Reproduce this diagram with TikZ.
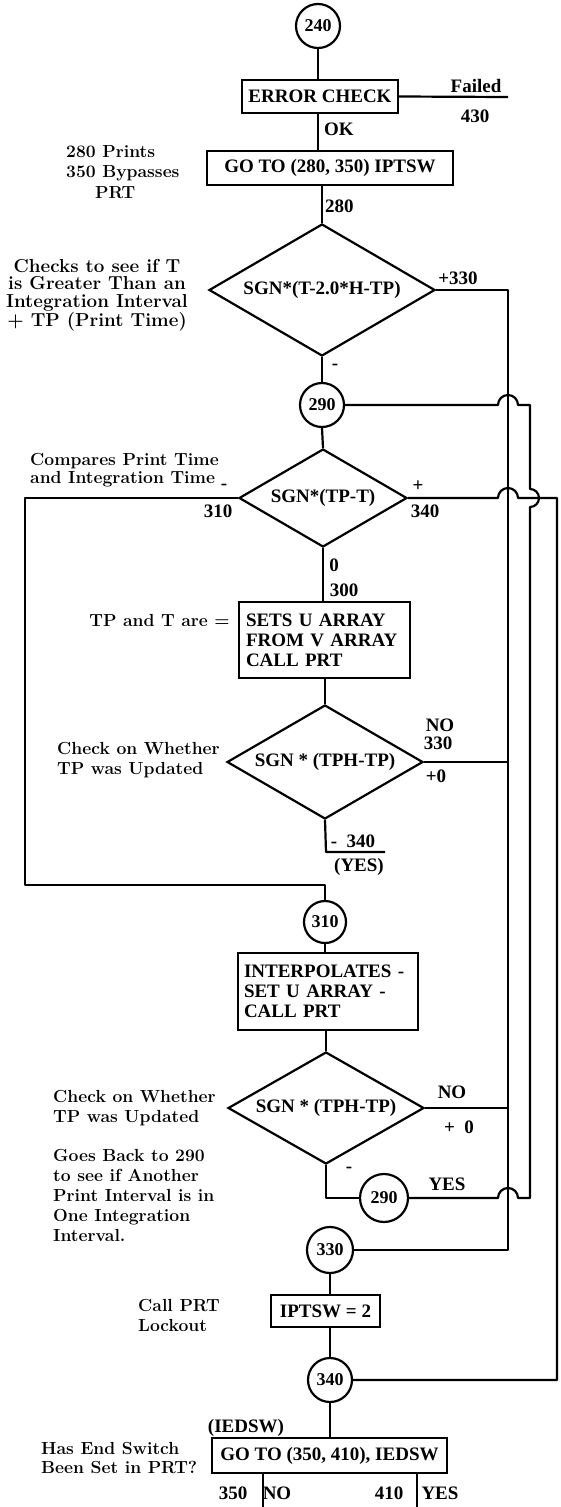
\documentclass[tikz,border=0pt]{standalone}
\usepackage{fontspec}
\newfontfamily\libs{Liberation Serif}
\usetikzlibrary{shapes.geometric,calc}
\newcommand\bxf{\libs\bfseries\fontsize{19}{20}\selectfont}
\newcommand\crf{\libs\bfseries\fontsize{18}{18}\selectfont}
\newcommand\anfs[1]{\bfseries\fontsize{17.5}{#1}\selectfont}
\newcommand\anfb[1]{\bfseries\fontsize{18.8}{#1}\selectfont}
\begin{document}
\begin{tikzpicture}[x=1pt,y=-1pt,
  ln/.style={line width=2.2pt, line join=round},
  pbox/.style={draw, line width=2.2pt, inner sep=0pt, font=\bxf},
  tbox/.style={draw, line width=2.2pt, inner ysep=0pt, font=\bxf, align=left},
  dia/.style={draw, shape=diamond, aspect=1.7, line width=2.2pt, inner sep=0pt, font=\bxf},
  crc/.style={draw, circle, line width=2.2pt, inner sep=0pt, minimum size=44pt, font=\crf},
  lbl/.style={inner sep=0pt, font=\bxf},
  ann/.style={inner sep=0pt, align=left},
]
\fill[white] (0,0) rectangle (561,1507);
\useasboundingbox (0,0) rectangle (561,1507);

% main column nodes
\node[crc] (c240) at (318,26) {240};
\node[pbox, minimum width=156, minimum height=33] (err) at (320,96.5) {ERROR CHECK};
\node[pbox, minimum width=246, minimum height=34] (go1) at (330,168) {GO TO (280, 350) IPTSW};
\node[dia, minimum width=226, minimum height=132] (d1) at (322,290) {SGN*(T-2.0*H-TP)};
\node[crc] (c290) at (322,405) {290};
\node[dia, minimum width=168, minimum height=98] (d2) at (323,498) {SGN*(TP-T)};
\node[tbox, inner xsep=7pt, text width=157, minimum height=76] (sets) at (324.5,640) {SETS U ARRAY\\FROM V ARRAY\\CALL PRT};
\node[dia, minimum width=196, minimum height=114] (d3) at (325,762) {SGN * (TPH-TP)};
\node[crc, minimum size=42] (c310) at (325,922) {310};
\node[tbox, inner xsep=6pt, text width=168, minimum height=77] (interp) at (328,991.5) {INTERPOLATES -\\SET U ARRAY -\\CALL PRT};
\node[dia, minimum width=196, minimum height=112] (d4) at (326,1108) {SGN * (TPH-TP)};
\node[crc, minimum size=48] (c290b) at (384,1198) {290};
\node[crc, minimum size=46] (c330) at (330,1250) {330};
\node[pbox, minimum width=109, minimum height=32] (ipt) at (325.5,1311) {IPTSW = 2};
\node[crc, minimum size=44] (c340) at (330,1380) {340};
\node[pbox, minimum width=235, minimum height=35] (go2) at (329.5,1455.5) {GO TO (350, 410), IEDSW};

% helper coordinates
\coordinate (fail) at (508,97);
\coordinate (A0) at (508,290);
\coordinate (A1) at (508,1250);
\coordinate (B0) at (530,405);
\coordinate (B1) at (530,1198);
\coordinate (C1) at (557,1380);
\coordinate (L0) at (25,498);
\coordinate (L1) at (25,885);
\coordinate (L2) at (325,885);
\coordinate (s340a) at (326,852);
\coordinate (s340b) at (385,852);
\coordinate (y290) at (326,1198);
\coordinate (n350) at (263,1507);
\coordinate (n410) at (417,1507);

% main flow connectors
\draw[ln] (c240.south) -- (c240.south |- err.north);
\draw[ln] (err.south -| c240.south) -- (c240.south |- go1.north);
\draw[ln] (err.east) -- (fail);
\draw[ln] (go1.south -| d1.north) -- (d1.north);
\draw[ln] (d1.south) -- (c290.north);
\draw[ln] (c290.south) -- (d2.north);
\draw[ln] (d2.south) -- (d2.south |- sets.north);
\draw[ln] (sets.south -| d3.north) -- (d3.north);
\draw[ln] (d3.south) -- (s340a) -- (s340b);
\draw[ln] (d2.west) -- (L0) -- (L1) -- (L2) -- (c310.north);
\draw[ln] (c310.south) -- (c310.south |- interp.north);
\draw[ln] (interp.south -| d4.north) -- (d4.north);
\draw[ln] (d4.south) -- (y290) -- (c290b.west);
\draw[ln] (c330.south) -- (c330.south |- ipt.north);
\draw[ln] (ipt.south -| c340.north) -- (c340.north);
\draw[ln] (c340.south) -- (c340.south |- go2.north);
\draw[ln] (go2.south -| n350) -- (n350);
\draw[ln] (go2.south -| n410) -- (n410);

% right-hand return lines
\draw[ln] (d1.east) -- (A0) -- (A1) -- (c330.east);
\draw[ln] (d3.east) -- (d3.east -| A0);
\draw[ln] (d4.east) -- (d4.east -| A0);
\draw[ln] (c290.east) -- ($(c290.east -| A0)+(-10,0)$) arc[start angle=180,end angle=0,radius=10pt]
  -- (B0) -- ($(B0 |- d2.east)+(0,-9)$) arc[start angle=90,end angle=-90,radius=9pt]
  -- (B1) -- ($(B1 -| A0)+(10,0)$) arc[start angle=0,end angle=180,radius=10pt] -- (c290b.east);
\draw[ln] (d2.east) -- ($(d2.east -| A0)+(-10,0)$) arc[start angle=180,end angle=0,radius=10pt]
  -- (d2.east -| C1) -- (C1) -- (c340.east);

% connector labels
\node[lbl] (lfail) at (476,86) {Failed};
\node[lbl] (l430) at (475,116) {430};
\node[lbl, anchor=west] (lok) at (324,129) {OK};
\node[lbl, anchor=west] (l280) at (325,206) {280};
\node[lbl] (l330a) at (458,278) {+330};
\node[lbl] (lm1) at (335,367) {-};
\node[lbl] (lm2) at (224,487) {-};
\node[lbl] (l310) at (218,511) {310};
\node[lbl] (lp2) at (418,486) {+};
\node[lbl] (l340a) at (425,511) {340};
\node[lbl] (l0) at (334,565) {0};
\node[lbl] (l300) at (344,590) {300};
\node[lbl] (lno1) at (440,725) {NO};
\node[lbl] (l330b) at (438,743) {330};
\node[lbl] (lp01) at (436,776) {+0};
\node[lbl] (l340b) at (353,841) {-\ \ 340};
\node[lbl] (lyes1) at (359,867) {(YES)};
\node[lbl] (lno2) at (452,1092) {NO};
\node[lbl] (lp02) at (459,1127) {+\ \ 0};
\node[lbl] (lyes2) at (447,1184) {YES};
\node[lbl] (lm3) at (349,1170) {-};
\node[lbl] (liedsw) at (246,1428) {(IEDSW)};
\node[lbl] (l350) at (233,1493) {350};
\node[lbl] (lno3) at (277,1493) {NO};
\node[lbl] (l410) at (389,1493) {410};
\node[lbl] (lyes3) at (440,1493) {YES};

% annotations
\node[ann, anchor=west, font={\anfs{20.5}}] (a1) at (66,172) {280 Prints\\350 Bypasses\\\hspace*{29pt}PRT};
\node[ann, align=center, font={\anfb{17.5}}] (a2) at (97,295) {Checks to see if T\\is Greater Than an\\Integration Interval\\+ TP (Print Time)};
\node[ann, anchor=west, font={\anfs{18}}] (a3) at (30,470) {Compares Print Time\\and Integration Time};
\node[ann, anchor=east, font={\anfs{20}}] (a4) at (230,620) {TP and T are =};
\node[ann, anchor=west, font={\anfs{20}}] (a5) at (57,760) {Check on Whether\\TP was Updated};
\node[ann, anchor=west, font={\anfs{20}}] (a6) at (53,1108) {Check on Whether\\TP was Updated};
\node[ann, anchor=west, font={\anfs{20}}] (a7) at (53,1195) {Goes Back to 290\\to see if Another\\Print Interval is in\\One Integration\\Interval.};
\node[ann, anchor=west, font={\anfs{20}}] (a8) at (138,1315) {Call PRT\\Lockout};
\node[ann, anchor=west, font={\anfs{19}}] (a9) at (41,1457.5) {Has End Switch\\Been Set in PRT?};
\end{tikzpicture}
\end{document}
